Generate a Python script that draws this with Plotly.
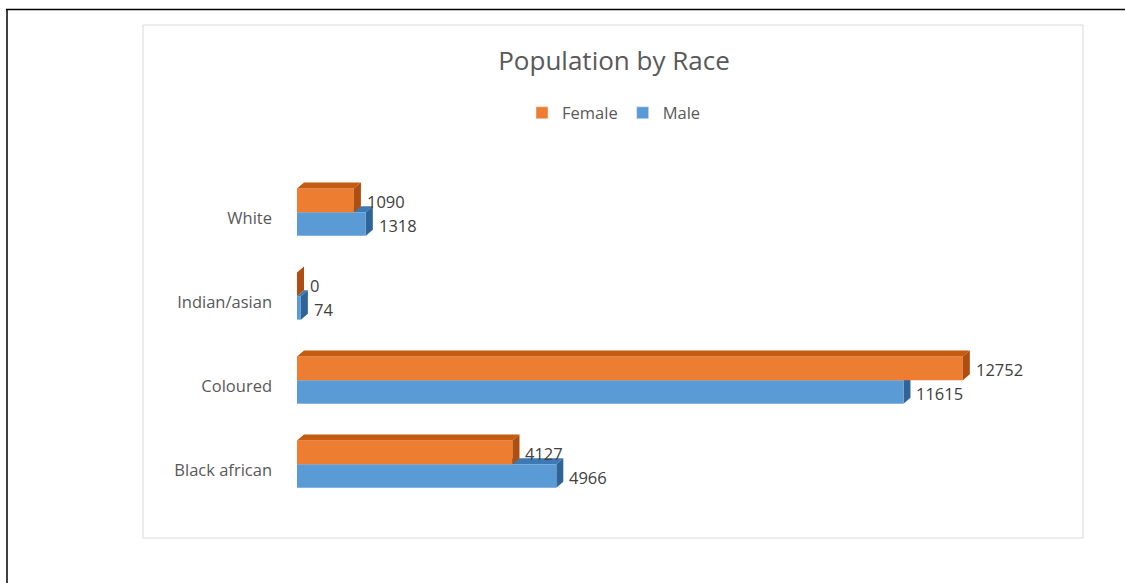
import plotly.graph_objects as go

# ---- data (bottom to top) ----
categories = ["Black african", "Coloured", "Indian/asian", "White"]
female = [4127, 12752, 0, 1090]
male = [4966, 11615, 74, 1318]
series_names = ["Female", "Male"]

# ---- geometry / style ----
W, H = 1125, 583
ML, MR, MT, MB = 297, 97, 168, 62
XMAX = 14000
PW = W - ML - MR
PH = H - MT - MB
px_per_unit_x = PW / XMAX
px_per_unit_y = 84.0
YMIN = -0.6
YMAX = YMIN + PH / px_per_unit_y
BAR_W = 0.28
PAIR_OFF = 0.077
DX = 7 / px_per_unit_x
DY = 6 / px_per_unit_y

C_F, C_F_TOP, C_F_SIDE = "#ED7D31", "#C55A11", "#AE4E10"
C_M, C_M_TOP, C_M_SIDE = "#5B9BD5", "#3F79B3", "#2F6496"
FONT = "Open Sans"
FS = 16.5

pos = list(range(len(categories)))
y_f = [p + PAIR_OFF + BAR_W / 2 for p in pos]
y_m = [p + PAIR_OFF - BAR_W / 2 for p in pos]

fig = go.Figure()
fig.add_trace(go.Bar(y=y_m, x=male, orientation="h", width=BAR_W, name=series_names[1],
                     marker=dict(color=C_M, line=dict(width=0)), showlegend=False))
fig.add_trace(go.Bar(y=y_f, x=female, orientation="h", width=BAR_W, name=series_names[0],
                     marker=dict(color=C_F, line=dict(width=0)), showlegend=False))
# legend entries
fig.add_trace(go.Bar(y=[None], x=[None], orientation="h", name=series_names[0],
                     marker=dict(color=C_F)))
fig.add_trace(go.Bar(y=[None], x=[None], orientation="h", name=series_names[1],
                     marker=dict(color=C_M)))


def faces(v, yc, top_col, side_col, layer):
    yb, yt = yc - BAR_W / 2, yc + BAR_W / 2
    top = f"M 0,{yt} L {v},{yt} L {v + DX},{yt + DY} L {DX},{yt + DY} Z"
    side = f"M {v},{yb} L {v},{yt} L {v + DX},{yt + DY} L {v + DX},{yb + DY} Z"
    return [
        dict(type="path", path=top, xref="x", yref="y", fillcolor=top_col,
             line=dict(width=0), layer=layer),
        dict(type="path", path=side, xref="x", yref="y", fillcolor=side_col,
             line=dict(width=0), layer=layer),
    ]


shapes = []
for v, yc in zip(male, y_m):
    shapes += faces(v, yc, C_M_TOP, C_M_SIDE, "below")
for v, yc in zip(female, y_f):
    shapes += faces(v, yc, C_F_TOP, C_F_SIDE, "above")


def px2paper_x(px):
    return (px - ML) / PW


def px2paper_y(py):
    return (H - MB - py) / PH


# inner chart box
shapes.append(dict(type="rect", xref="paper", yref="paper",
                   x0=px2paper_x(143), x1=px2paper_x(1083),
                   y0=px2paper_y(538), y1=px2paper_y(25),
                   line=dict(color="#D9D9D9", width=1), fillcolor="rgba(0,0,0,0)",
                   layer="below"))
# outer frame lines
shapes.append(dict(type="line", xref="paper", yref="paper",
                   x0=px2paper_x(6), x1=px2paper_x(1130),
                   y0=px2paper_y(9.5), y1=px2paper_y(9.5),
                   line=dict(color="#000000", width=1.5)))
shapes.append(dict(type="line", xref="paper", yref="paper",
                   x0=px2paper_x(7), x1=px2paper_x(7),
                   y0=px2paper_y(9), y1=px2paper_y(590),
                   line=dict(color="#000000", width=1.5)))

annotations = []
for v, yc in zip(female, y_f):
    annotations.append(dict(x=v, y=yc, xref="x", yref="y", text=str(v), showarrow=False,
                            xanchor="left", xshift=11, yshift=-1,
                            font=dict(family=FONT, size=FS, color="#404040")))
for v, yc in zip(male, y_m):
    annotations.append(dict(x=v, y=yc, xref="x", yref="y", text=str(v), showarrow=False,
                            xanchor="left", xshift=11, yshift=-2,
                            font=dict(family=FONT, size=FS, color="#404040")))

fig.update_layout(
    width=W, height=H,
    margin=dict(l=ML, r=MR, t=MT, b=MB),
    paper_bgcolor="white", plot_bgcolor="white",
    barmode="overlay",
    title=dict(text="Population by Race", x=614 / W, xanchor="center",
               y=1 - 61 / H, yanchor="middle", xref="container", yref="container",
               font=dict(family=FONT, size=26, color="#595959")),
    legend=dict(orientation="h", x=px2paper_x(614), xanchor="center",
                y=px2paper_y(113), yanchor="middle",
                font=dict(family=FONT, size=FS, color="#595959"),
                traceorder="normal", itemwidth=30),
    xaxis=dict(range=[0, XMAX], visible=False, fixedrange=True),
    yaxis=dict(range=[YMIN, YMAX], tickmode="array", tickvals=pos, ticktext=categories,
               showgrid=False, zeroline=False, showline=False, ticks="",
               ticklabelstandoff=24,
               tickfont=dict(family=FONT, size=FS, color="#595959")),
    shapes=shapes,
    annotations=annotations,
    showlegend=True,
)

fig.write_html("out.html")
